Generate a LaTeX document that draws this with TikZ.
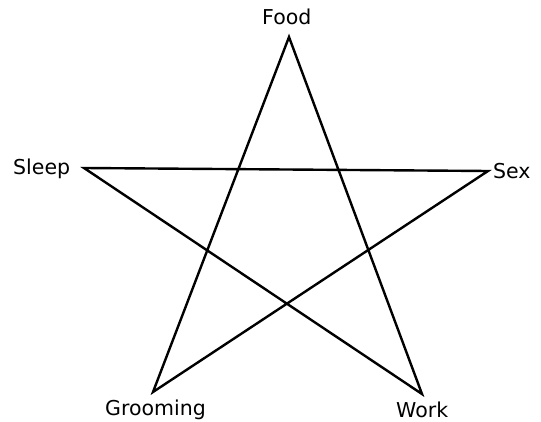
\documentclass[tikz,border=0pt]{standalone}
\usepackage{fontspec}
\setmainfont{DejaVu Sans}
\begin{document}
\begin{tikzpicture}[x=1pt,y=-1pt,
  lbl/.style={anchor=base west,inner sep=0pt,font=\fontsize{20.5}{24}\selectfont},
  edge/.style={line width=2.4pt,line join=miter}]
\useasboundingbox (0,0) rectangle (541,422);
\coordinate (food) at (289,37);
\coordinate (sex) at (488,171);
\coordinate (groom) at (153,392);
\coordinate (sleep) at (84,168);
\coordinate (work) at (422,394);
\node[lbl] (lfood) at (262,25) {Food};
\node[lbl] (lsleep) at (13,175) {Sleep};
\node[lbl] (lsex) at (493,179) {Sex};
\node[lbl] (lgroom) at (105,415) {Grooming};
\node[lbl] (lwork) at (396,417) {Work};
\draw[edge] (food) -- (work) -- (sleep) -- (sex) -- (groom) -- cycle;
\end{tikzpicture}
\end{document}
